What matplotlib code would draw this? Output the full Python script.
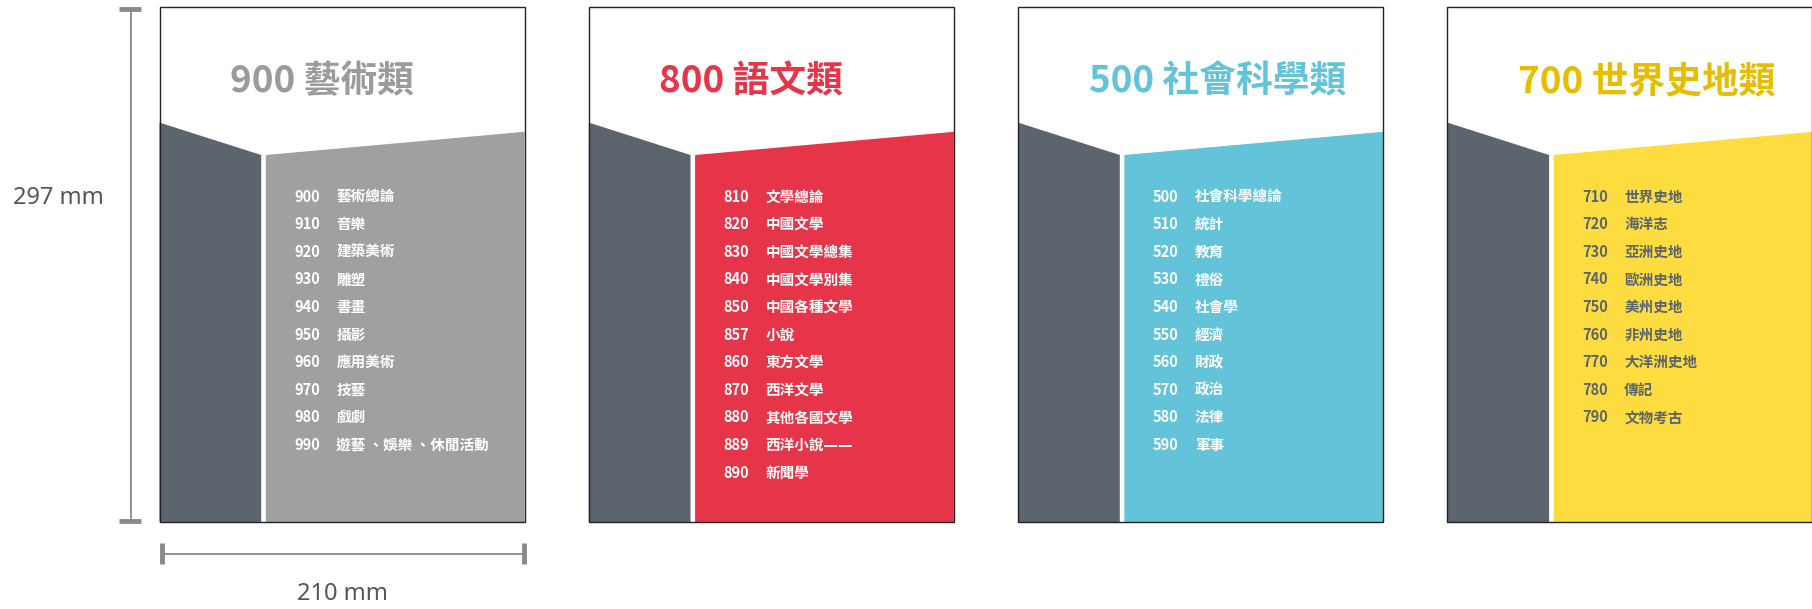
import matplotlib
matplotlib.use("Agg")
import matplotlib.pyplot as plt
from matplotlib.patches import Polygon, Rectangle

plt.rcParams['font.family'] = ['Noto Sans CJK TC', 'DejaVu Sans']

# ---- data ----
titles = ["900 藝術類", "800 語文類", "500 社會科學類", "700 世界史地類"]
codes_900 = ["900", "910", "920", "930", "940", "950", "960", "970", "980", "990"]
names_900 = ["藝術總論", "音樂", "建築美術", "雕塑", "書畫", "攝影", "應用美術", "技藝", "戲劇",
             "遊藝 、娛樂 、休閒活動"]
codes_800 = ["810", "820", "830", "840", "850", "857", "860", "870", "880", "889", "890"]
names_800 = ["文學總論", "中國文學", "中國文學總集", "中國文學別集", "中國各種文學", "小說",
             "東方文學", "西洋文學", "其他各國文學", "西洋小說——", "新聞學"]
codes_500 = ["500", "510", "520", "530", "540", "550", "560", "570", "580", "590"]
names_500 = ["社會科學總論", "統計", "教育", "禮俗", "社會學", "經濟", "財政", "政治", "法律", "軍事"]
codes_700 = ["710", "720", "730", "740", "750", "760", "770", "780", "790"]
names_700 = ["世界史地", "海洋志", "亞洲史地", "歐洲史地", "美州史地", "非州史地", "大洋洲史地",
             "傳記", "文物考古"]
height_label = "297 mm"
width_label = "210 mm"

codes = [codes_900, codes_800, codes_500, codes_700]
names = [names_900, names_800, names_500, names_700]
fill_colors = ["#9fa0a0", "#e63549", "#63c3d8", "#fddc3f"]
title_colors = ["#9b9b9b", "#e63549", "#63c3d8", "#e6bd00"]
list_colors = ["white", "white", "white", "#5c656e"]
dark = "#5c656e"
dim_color = "#8a8a8a"

# ---- layout (pixels) ----
W, H = 1812, 609
fig = plt.figure(figsize=(W / 100, H / 100), dpi=100)
ax = fig.add_axes([0, 0, 1, 1])
ax.set_xlim(0, W)
ax.set_ylim(H, 0)
ax.axis('off')

pw, ph = 365, 515
top = 7
step = 429.3
left0 = 159.5

for i in range(4):
    L = left0 + i * step
    R = L + pw
    B = top + ph
    # dark side
    ax.add_patch(Polygon([(L, top + 115.6), (L + 101.7, top + 148), (L + 101.7, B), (L, B)],
                         closed=True, facecolor=dark, edgecolor='none', zorder=1))
    # coloured face
    ax.add_patch(Polygon([(L + 106.3, top + 148), (R, top + 124.8), (R, B), (L + 106.3, B)],
                         closed=True, facecolor=fill_colors[i], edgecolor='none', zorder=1))
    # border
    ax.add_patch(Rectangle((L, top), pw, ph, facecolor='none', edgecolor='#222222',
                           linewidth=1.0, zorder=3))
    # title
    ax.text(L + 70.5, top + 75, titles[i], color=title_colors[i], fontsize=26.5,
            fontweight='bold', ha='left', va='center', zorder=4)
    # list
    for j, (c, n) in enumerate(zip(codes[i], names[i])):
        y = top + 189.5 + j * 27.6
        ax.text(L + 135, y, c, color=list_colors[i], fontsize=10.5, fontweight='bold',
                ha='left', va='center', zorder=4)
        fam = ['DejaVu Sans', 'Noto Sans CJK TC'] if '—' in n else ['Noto Sans CJK TC', 'DejaVu Sans']
        ax.text(L + 176.8, y, n, color=list_colors[i], fontsize=10.5, fontweight='bold',
                ha='left', va='center', zorder=4, family=fam)

# ---- dimension marks ----
vx = 130.6
ax.plot([vx, vx], [8.5, 521], color=dim_color, lw=1.3, zorder=2)
ax.plot([119, 141], [8.5, 8.5], color=dim_color, lw=3.5, solid_capstyle='butt', zorder=2)
ax.plot([119, 141], [521, 521], color=dim_color, lw=3.5, solid_capstyle='butt', zorder=2)
ax.text(58, 198, height_label, color='#555555', fontsize=17, ha='center', va='center',
        family=['Noto Sans', 'DejaVu Sans'])

hy = 553.5
ax.plot([162, 523.5], [hy, hy], color=dim_color, lw=1.3, zorder=2)
ax.plot([162, 162], [543, 564], color=dim_color, lw=3.5, solid_capstyle='butt', zorder=2)
ax.plot([523.5, 523.5], [543, 564], color=dim_color, lw=3.5, solid_capstyle='butt', zorder=2)
ax.text(342, 594, width_label, color='#555555', fontsize=17, ha='center', va='center',
        family=['Noto Sans', 'DejaVu Sans'])

fig.savefig("out.png", dpi=100, facecolor='white')
